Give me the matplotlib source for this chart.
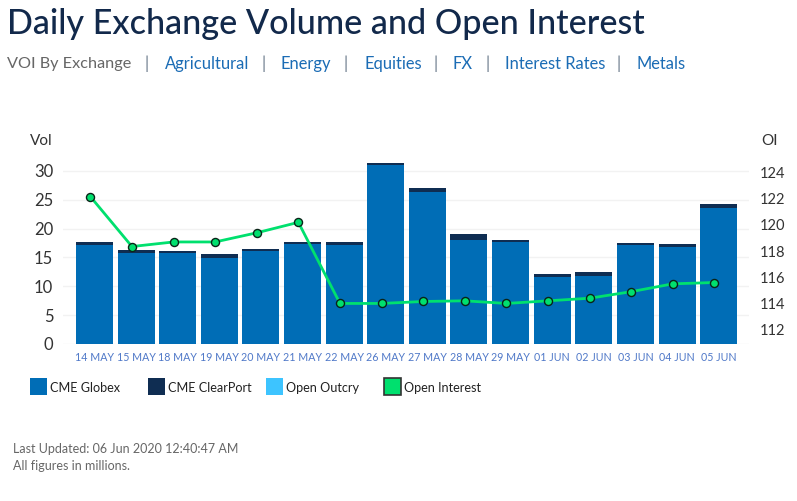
import numpy as np
import matplotlib
matplotlib.use('Agg')
import matplotlib.pyplot as plt
from matplotlib.patches import Rectangle

W, H = 797, 501

dates = ['14 MAY', '15 MAY', '18 MAY', '19 MAY', '20 MAY', '21 MAY', '22 MAY', '26 MAY',
         '27 MAY', '28 MAY', '29 MAY', '01 JUN', '02 JUN', '03 JUN', '04 JUN', '05 JUN']
globex = [17.2, 15.8, 15.8, 14.9, 16.1, 17.3, 17.2, 31.0,
          26.4, 18.0, 17.7, 11.6, 11.8, 17.2, 16.8, 23.6]
clearport = [0.5, 0.5, 0.3, 0.7, 0.4, 0.4, 0.5, 0.4,
             0.65, 1.1, 0.3, 0.5, 0.7, 0.3, 0.5, 0.7]
open_interest = [122.17, 118.35, 118.7, 118.7, 119.4, 120.2, 114.0, 114.0,
                 114.15, 114.2, 114.0, 114.2, 114.4, 114.9, 115.5, 115.6]
vol_ticks = [0, 5, 10, 15, 20, 25, 30]
oi_ticks = [112, 114, 116, 118, 120, 122, 124]
nav_items = ['Agricultural', 'Energy', 'Equities', 'FX', 'Interest Rates', 'Metals']

BLUE = '#006db6'
NAVY = '#0f2d52'
SKY = '#3dc4ff'
GREEN = '#00e06e'
LINK = '#1b6cb5'

plt.rcParams['font.family'] = ['Lato', 'DejaVu Sans']

fig = plt.figure(figsize=(W / 100, H / 100), dpi=100)


# pixel position in the picture -> figure coords
def px(x, y):
    return x / W, 1 - y / H


def put(x, y, s, **kw):
    fx, fy = px(x, y)
    fig.text(fx, fy, s, va='center', **kw)


# axes box runs from grid left/right, bottom at 0, top a bit above 30
left, right, bottom, top = 63, 749, 344, 159.4
ax = fig.add_axes([left / W, 1 - bottom / H, (right - left) / W, (bottom - top) / H])
ax2 = ax.twinx()

x = np.arange(len(dates))
ax.bar(x, globex, width=0.89, color=BLUE, zorder=2)
ax.bar(x, clearport, bottom=globex, width=0.89, color=NAVY, zorder=2)
ax.set_xlim(-0.757, 15.73)
ax.set_ylim(0, 32)
ax.set_yticks(vol_ticks)
ax.set_xticks(x)
ax.set_xticklabels(dates, fontsize=7.7, color='#4f78c8')
ax.tick_params(axis='x', length=0, pad=6)
ax.tick_params(axis='y', length=0, pad=7, labelsize=12, labelcolor='#333333')
ax.grid(axis='y', color='#f2f2f2', lw=1, zorder=0)
ax.set_axisbelow(True)
for s in ax.spines.values():
    s.set_visible(False)

# the line sits a little left of the bar centres in the original
ax2.plot(x - 0.1, open_interest, color=GREEN, lw=2, marker='o', ms=5.8,
         mfc=GREEN, mec='#0a2418', mew=1, zorder=5)
ax2.set_ylim(110.9, 125.01)
ax2.set_yticks(oi_ticks)
ax2.tick_params(axis='y', length=0, pad=8, labelsize=10.5, labelcolor='#333333')
for s in ax2.spines.values():
    s.set_visible(False)

put(30, 141, 'Vol', fontsize=11, color='#333333')
put(761, 141, 'OI', fontsize=11, color='#333333')

# header
put(7, 24, 'Daily Exchange Volume and Open Interest', fontsize=24.6, color='#12294b', weight='medium')
put(7, 64, 'VOI By Exchange', fontsize=11.7, color='#666666')
nav_x = [165, 281, 364, 453, 505, 636]
sep_x = [147, 264, 346, 436, 488, 619]
for nx, sx, item in zip(nav_x, sep_x, nav_items):
    put(sx, 64, '|', fontsize=12, color='#667788', ha='center')
    put(nx, 64, item, fontsize=11.9, color=LINK)

# legend
legend = [(30, 'CME Globex', BLUE, 'none'), (148, 'CME ClearPort', NAVY, 'none'),
          (266, 'Open Outcry', SKY, 'none'), (384, 'Open Interest', GREEN, '#333333')]
for lx, name, col, edge in legend:
    fx, fy = px(lx, 395)
    fig.add_artist(Rectangle((fx, fy), 16.5 / W, 17 / H, transform=fig.transFigure,
                             facecolor=col, edgecolor=edge, lw=1.2))
    put(lx + 20, 388, name, fontsize=9.1, color='#222222')

put(13, 449, 'Last Updated: 06 Jun 2020 12:40:47 AM', fontsize=9, color='#666666')
put(13, 466, 'All figures in millions.', fontsize=9, color='#666666')

fig.savefig('out.png', dpi=100)
